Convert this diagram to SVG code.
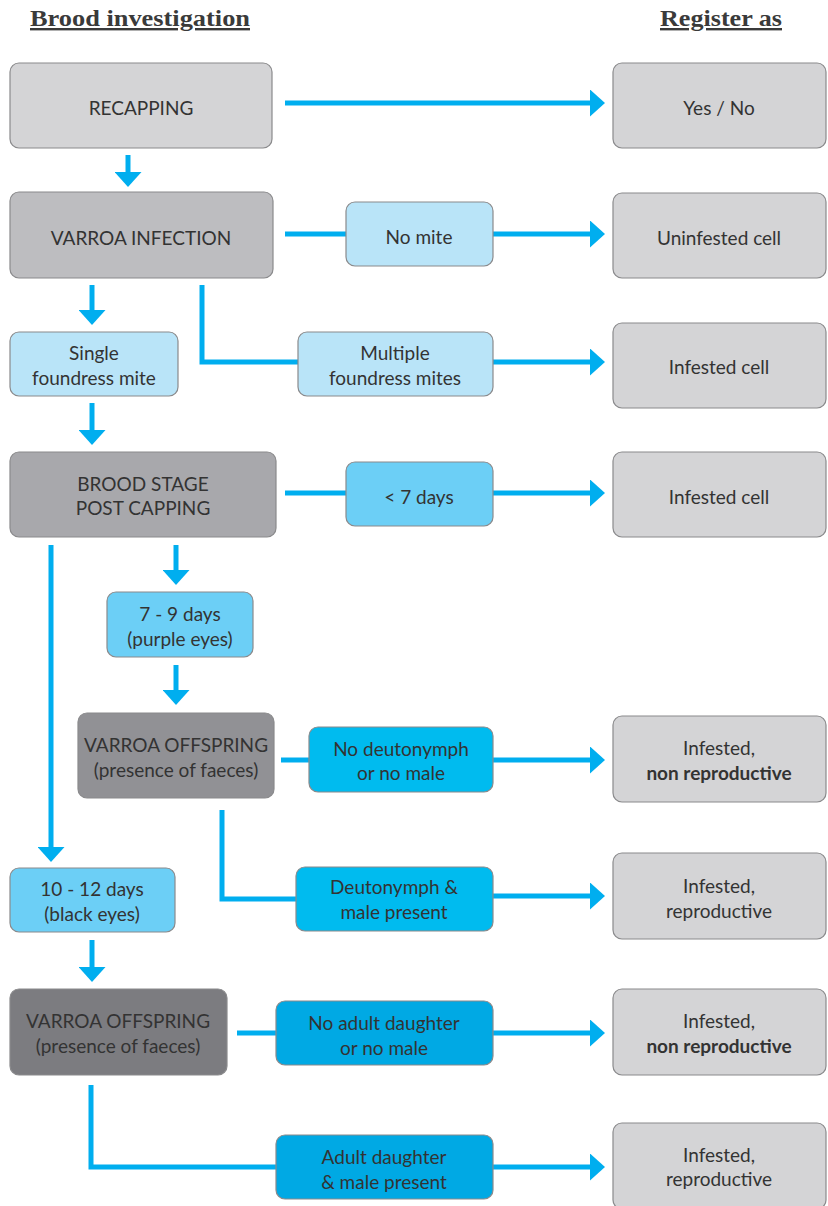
<svg xmlns="http://www.w3.org/2000/svg" width="828" height="1206" viewBox="0 0 828 1206">
<defs>
<style>
.b{stroke:#8a8a8c;stroke-width:1.2}
.g1{fill:#d4d4d6}.g2{fill:#bdbdc0}.g3{fill:#a8a8ac}.g4{fill:#919195}.g5{fill:#7c7c80}
.l1{fill:#b9e4f8}.l2{fill:#6ccff6}.l3{fill:#00bbef}.l4{fill:#00a9e4}
text{font-family:Lato,"Open Sans","Liberation Sans",sans-serif;font-size:19px;fill:#333;text-anchor:middle}
.h{font-family:"Liberation Serif",serif;font-weight:bold;font-size:24px;text-decoration:underline;text-anchor:start;fill:#3a3a3a}
.bold{font-weight:bold}
.c{stroke:#00aeef;stroke-width:5;fill:none}
.ah{fill:#00aeef}
</style>
<marker id="ar" markerWidth="3" markerHeight="5.4" refX="0" refY="2.7" orient="auto" markerUnits="strokeWidth" viewBox="0 0 3 5.4">
<path d="M0,0 L3,2.7 L0,5.4 z" class="ah"/>
</marker>
</defs>
<rect width="828" height="1206" fill="#fff"/>
<text class="h" x="30" y="26" textLength="220" lengthAdjust="spacingAndGlyphs">Brood investigation</text>
<text class="h" x="660" y="26" textLength="122" lengthAdjust="spacingAndGlyphs">Register as</text>

<g id="connectors">
<path class="c" d="M285,103 H590" marker-end="url(#ar)"/>
<path class="c" d="M128,155 V172" marker-end="url(#ar)"/>
<path class="c" d="M285,234 H346"/>
<path class="c" d="M493,234 H590" marker-end="url(#ar)"/>
<path class="c" d="M92,285 V310" marker-end="url(#ar)"/>
<path class="c" d="M202,285 V362 H298"/>
<path class="c" d="M493,362 H590" marker-end="url(#ar)"/>
<path class="c" d="M92,403 V430" marker-end="url(#ar)"/>
<path class="c" d="M285,493 H346"/>
<path class="c" d="M493,493 H590" marker-end="url(#ar)"/>
<path class="c" d="M176,545 V570" marker-end="url(#ar)"/>
<path class="c" d="M51,545 V847" marker-end="url(#ar)"/>
<path class="c" d="M176,665 V690" marker-end="url(#ar)"/>
<path class="c" d="M281,760 H309"/>
<path class="c" d="M493,760 H590" marker-end="url(#ar)"/>
<path class="c" d="M222,810 V899 H296"/>
<path class="c" d="M493,896 H590" marker-end="url(#ar)"/>
<path class="c" d="M92,940 V967" marker-end="url(#ar)"/>
<path class="c" d="M237,1033 H276"/>
<path class="c" d="M493,1033 H590" marker-end="url(#ar)"/>
<path class="c" d="M91,1085 V1167 H276"/>
<path class="c" d="M493,1167 H590" marker-end="url(#ar)"/>
</g>

<g id="recapping"><rect class="b g1" x="10" y="63" width="262" height="85" rx="9"/><text x="141" y="115">RECAPPING</text></g>
<g id="yesno"><rect class="b g1" x="613" y="63" width="213" height="85" rx="9"/><text x="719" y="115">Yes / No</text></g>

<g id="varroa-infection"><rect class="b g2" x="10" y="192" width="263" height="86" rx="9"/><text x="141" y="245">VARROA INFECTION</text></g>
<g id="no-mite"><rect class="b l1" x="346" y="202" width="147" height="64" rx="9"/><text x="419" y="244">No mite</text></g>
<g id="uninfested"><rect class="b g1" x="613" y="193" width="213" height="85" rx="9"/><text x="719" y="245">Uninfested cell</text></g>

<g id="single"><rect class="b l1" x="10" y="332" width="168" height="64" rx="9"/><text x="94" y="360">Single</text><text x="94" y="385">foundress mite</text></g>
<g id="multiple"><rect class="b l1" x="298" y="332" width="195" height="64" rx="9"/><text x="395" y="360">Multiple</text><text x="395" y="385">foundress mites</text></g>
<g id="infested1"><rect class="b g1" x="613" y="323" width="213" height="85" rx="9"/><text x="719" y="374">Infested cell</text></g>

<g id="brood-stage"><rect class="b g3" x="10" y="452" width="266" height="85" rx="9"/><text x="143" y="491">BROOD STAGE</text><text x="143" y="515">POST CAPPING</text></g>
<g id="lt7"><rect class="b l2" x="346" y="462" width="147" height="64" rx="9"/><text x="419" y="504">&lt; 7 days</text></g>
<g id="infested2"><rect class="b g1" x="613" y="452" width="213" height="85" rx="9"/><text x="719" y="504">Infested cell</text></g>

<g id="d7-9"><rect class="b l2" x="107" y="592" width="146" height="65" rx="9"/><text x="180" y="621">7 - 9 days</text><text x="180" y="646">(purple eyes)</text></g>

<g id="offspring1"><rect class="b g4" x="78" y="713" width="196" height="85" rx="9"/><text x="176" y="752">VARROA OFFSPRING</text><text x="176" y="777">(presence of faeces)</text></g>
<g id="no-deuto"><rect class="b l3" x="309" y="727" width="184" height="65" rx="9"/><text x="401" y="756">No deutonymph</text><text x="401" y="780">or no male</text></g>
<g id="nonrep1"><rect class="b g1" x="613" y="716" width="213" height="86" rx="9"/><text x="719" y="755">Infested,</text><text x="719" y="780" class="bold">non reproductive</text></g>

<g id="deuto"><rect class="b l3" x="296" y="867" width="197" height="64" rx="9"/><text x="394" y="894">Deutonymph &amp;</text><text x="394" y="919">male present</text></g>
<g id="rep1"><rect class="b g1" x="613" y="853" width="213" height="86" rx="9"/><text x="719" y="893">Infested,</text><text x="719" y="918">reproductive</text></g>

<g id="d10-12"><rect class="b l2" x="10" y="868" width="165" height="64" rx="9"/><text x="92" y="896">10 - 12 days</text><text x="92" y="921">(black eyes)</text></g>

<g id="offspring2"><rect class="b g5" x="10" y="989" width="217" height="86" rx="9"/><text x="118" y="1028">VARROA OFFSPRING</text><text x="118" y="1053">(presence of faeces)</text></g>
<g id="no-adult"><rect class="b l4" x="276" y="1001" width="217" height="64" rx="9"/><text x="384" y="1030">No adult daughter</text><text x="384" y="1055">or no male</text></g>
<g id="nonrep2"><rect class="b g1" x="613" y="989" width="213" height="86" rx="9"/><text x="719" y="1028">Infested,</text><text x="719" y="1053" class="bold">non reproductive</text></g>

<g id="adult"><rect class="b l4" x="276" y="1135" width="217" height="64" rx="9"/><text x="384" y="1164">Adult daughter</text><text x="384" y="1189">&amp; male present</text></g>
<g id="rep2"><rect class="b g1" x="613" y="1123" width="213" height="86" rx="9"/><text x="719" y="1162">Infested,</text><text x="719" y="1186">reproductive</text></g>
</svg>
